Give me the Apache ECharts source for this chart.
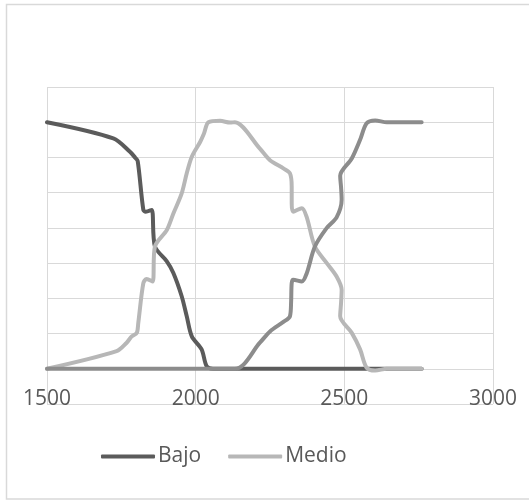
<!DOCTYPE html>
<html>
<head>
<meta charset="utf-8">
<script src="https://cdn.jsdelivr.net/npm/echarts@6/dist/echarts.min.js"></script>
<style>
  html, body { margin: 0; padding: 0; background: #fff; }
  #chart { width: 529px; height: 501px; }
</style>
</head>
<body>
<div id="chart"></div>
<script>
// x axis ticks
const xTicks = [1500, 2000, 2500, 3000];

// Bajo
const bajoX = [1500, 1723, 1779, 1796, 1805, 1824, 1832, 1852, 1863, 1903, 1925, 1953, 1970, 1987, 2020, 2037, 2058, 2760];
const bajoY = [7.0, 6.54, 6.16, 6.0, 5.9, 4.51, 4.46, 4.51, 3.47, 3.05, 2.72, 2.06, 1.49, 0.92, 0.55, 0.07, 0, 0];

// Medio
const medioX = [1500, 1734, 1768, 1785, 1802, 1807, 1824, 1835, 1855, 1863, 1903, 1925, 1953, 1970, 1987, 2015, 2028, 2043, 2082, 2116, 2132,
  2216, 2250, 2295, 2317, 2323, 2323, 2328, 2357, 2373, 2401, 2441, 2474, 2491, 2489, 2486, 2525, 2553, 2575, 2604, 2643, 2760];
const medioY = [0, 0.5, 0.74, 0.92, 1.02, 1.3, 2.43, 2.55, 2.48, 3.47, 3.94, 4.41, 4.98, 5.55, 6.02, 6.44, 6.68, 7.0, 7.04, 6.99, 7.0,
  6.25, 5.92, 5.69, 5.55, 5.17, 4.7, 4.46, 4.56, 4.32, 3.47, 3.0, 2.62, 2.24, 1.87, 1.49, 1.02, 0.55, 0.03, -0.05, 0, 0];

// Alto (no legend entry in the original)
const altoX = [1500, 2132, 2216, 2250, 2295, 2317, 2321, 2323, 2328, 2357, 2373, 2401, 2441, 2474, 2491, 2489, 2486, 2525, 2553, 2575, 2604, 2643, 2760];
const altoY = [0, 0, 0.74, 1.06, 1.33, 1.49, 1.9, 2.43, 2.53, 2.48, 2.7, 3.47, 4.0, 4.3, 4.8, 5.15, 5.48, 5.97, 6.5, 6.97, 7.05, 7.0, 7.0];

const zip = (xs, ys) => xs.map((x, i) => [x, ys[i]]);

const colors = ['#5b5b5b', '#b7b7b7', '#8c8c8c'];
const font = '"Open Sans", "Noto Sans", sans-serif';

const lineSeries = (name, data, color) => ({
  name: name,
  type: 'line',
  data: data,
  smooth: 0.3,
  symbol: 'none',
  lineStyle: { width: 4, color: color, cap: 'round' },
  itemStyle: { color: color }
});

const option = {
  animation: false,
  color: colors,
  grid: {
    left: 47,
    right: 36,
    top: 87,
    bottom: 97,
    outerBoundsMode: 'none'
  },
  graphic: [{
    type: 'rect',
    shape: { x: 6.5, y: 4.5, width: 540, height: 494.5 },
    style: { fill: null, stroke: '#d9d9d9', lineWidth: 1.5 },
    silent: true
  }],
  legend: {
    data: ['Bajo', 'Medio'],
    left: 96,
    top: 441,
    icon: 'roundRect',
    itemWidth: 54,
    itemHeight: 4,
    itemGap: 27,
    textStyle: { color: '#595959', fontSize: 21, fontFamily: font, padding: [0, 0, 0, -2] }
  },
  xAxis: {
    type: 'value',
    min: xTicks[0],
    max: xTicks[xTicks.length - 1],
    interval: 500,
    axisLine: { show: false },
    axisTick: { show: false },
    // labels sit next to the zero line, over the lowest gridline
    axisLabel: {
      margin: -15,
      color: '#595959',
      fontSize: 21,
      fontFamily: font,
      formatter: (v) => String(v)
    },
    splitLine: { show: true, lineStyle: { color: '#d9d9d9', width: 1 } }
  },
  yAxis: {
    type: 'value',
    min: -1,
    max: 8,
    interval: 1,
    axisLine: { show: false },
    axisTick: { show: false },
    axisLabel: { show: false },
    splitLine: { show: true, lineStyle: { color: '#d9d9d9', width: 1 } }
  },
  series: [
    lineSeries('Bajo', zip(bajoX, bajoY), colors[0]),
    lineSeries('Medio', zip(medioX, medioY), colors[1]),
    lineSeries('Alto', zip(altoX, altoY), colors[2])
  ]
};

const myChart = echarts.init(document.getElementById('chart'));
myChart.setOption(option);
</script>
</body>
</html>
